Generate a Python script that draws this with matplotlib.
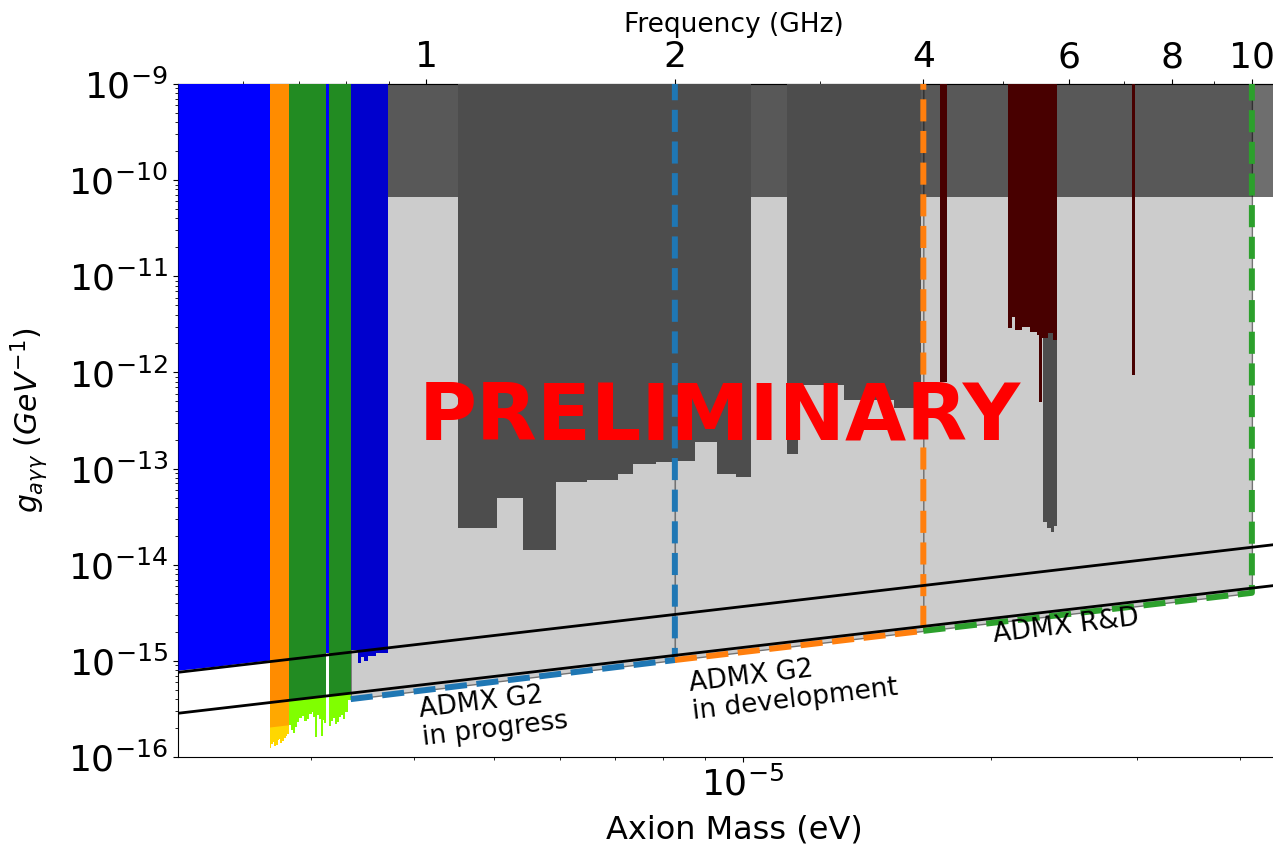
import numpy as np
import matplotlib
matplotlib.use('Agg')
import matplotlib.pyplot as plt
from matplotlib.patches import Polygon
from matplotlib.ticker import FuncFormatter, NullFormatter

EV_PER_GHZ = 4.1357e-6

# plot ranges
mass_lim = [2.068e-6, 4.6e-5]
g_lim = [1e-16, 1e-9]
TOP = 1e-8

# benchmark model lines (end points)
line_mass = [2.068e-6, 4.6e-5]
ksvz_g = [7.6e-16, 1.69e-14]
dfsz_g = [2.85e-16, 6.35e-15]

# helioscope limit
cast_g = 6.6e-11

# earlier ADMX limits (blue)
old_mass = [2.068e-6, 2.3e-6, 2.5e-6, 2.672e-6]
old_g = [8.0e-16, 8.8e-16, 9.6e-16, 1.02e-15]
old2_edges = [3.124e-6, 3.150e-6]
old2_g = [1.21e-15]

# run 1A (orange)
run1a_edges = [2.672e-6, 2.683e-6, 2.695e-6, 2.706e-6, 2.718e-6, 2.730e-6, 2.741e-6,
               2.752e-6, 2.763e-6, 2.779e-6, 2.794e-6, 2.806e-6, 2.817e-6]
run1a_g = [1.24e-16, 1.36e-16, 1.43e-16, 1.30e-16, 1.33e-16, 1.49e-16, 1.54e-16,
           1.41e-16, 1.47e-16, 1.58e-16, 1.65e-16, 1.72e-16]

# run 1B (green)
run1b_edges = [2.817e-6, 2.833e-6, 2.849e-6, 2.865e-6, 2.880e-6, 2.900e-6, 2.921e-6,
               2.941e-6, 2.961e-6, 2.982e-6, 3.003e-6, 3.016e-6, 3.028e-6, 3.045e-6,
               3.062e-6, 3.079e-6, 3.096e-6, 3.110e-6, 3.124e-6]
run1b_g = [2.15e-16, 1.92e-16, 1.77e-16, 2.05e-16, 2.31e-16, 2.52e-16, 2.67e-16,
           2.35e-16, 2.48e-16, 2.80e-16, 2.94e-16, 2.60e-16, 1.61e-16, 2.73e-16,
           2.50e-16, 1.65e-16, 2.43e-16, 2.25e-16]
run1b2_edges = [3.150e-6, 3.167e-6, 3.184e-6, 3.202e-6, 3.220e-6, 3.238e-6, 3.256e-6,
                3.274e-6, 3.292e-6, 3.320e-6, 3.348e-6]
run1b2_g = [2.10e-16, 2.35e-16, 2.54e-16, 2.22e-16, 2.31e-16, 2.60e-16, 2.73e-16,
            2.50e-16, 2.94e-16, 3.92e-16]

# run 1C (medium blue)
run1c_edges = [3.348e-6, 3.413e-6, 3.441e-6, 3.479e-6, 3.518e-6, 3.597e-6, 3.711e-6]
run1c_g = [1.30e-15, 9.49e-16, 1.10e-15, 9.96e-16, 1.12e-15, 1.21e-15]

# other haloscopes (dark grey)
exA_edges = [4.52e-6, 5.04e-6, 5.42e-6, 5.94e-6, 6.48e-6, 7.06e-6, 7.36e-6,
             7.85e-6, 8.30e-6, 8.75e-6, 9.30e-6, 9.81e-6, 1.023e-5]
exA_g = [2.41e-14, 4.94e-14, 1.42e-14, 7.24e-14, 7.60e-14, 8.78e-14,
         1.11e-13, 1.17e-13, 1.20e-13, 1.89e-13, 8.78e-14, 8.17e-14]
exB_edges = [1.130e-5, 1.166e-5, 1.325e-5, 1.523e-5, 1.641e-5]
exB_g = [1.42e-13, 7.40e-13, 5.16e-13, 4.26e-13]
exC_edges = [2.312e-5, 2.338e-5, 2.364e-5, 2.384e-5, 2.404e-5]
exC_g = [2.78e-14, 2.41e-14, 2.19e-14, 2.53e-14]

# dark red limits
redA_edges = [1.735e-5, 1.765e-5]
redA_g = [7.94e-13]
redB_edges = [2.097e-5, 2.121e-5, 2.138e-5, 2.181e-5, 2.230e-5, 2.268e-5,
              2.287e-5, 2.306e-5, 2.344e-5, 2.377e-5, 2.404e-5]
redB_g = [2.90e-12, 3.77e-12, 2.76e-12, 2.96e-12, 2.63e-12, 2.45e-12,
          4.92e-13, 2.28e-12, 2.57e-12, 2.17e-12]
redC_edges = [2.962e-5, 2.987e-5]
redC_g = [9.4e-13]

# ADMX projections
proj_edges = [3.348e-6, 8.27e-6, 1.654e-5, 4.136e-5]
proj_floor = [4.0e-16, 1.02e-15, 2.05e-15, 5.1e-15]
proj_colors = ['tab:blue', 'tab:orange', 'tab:green']

freq_ticks = [1, 2, 4, 6, 8, 10]


fig = plt.figure(figsize=(12.73, 8.46), dpi=100)
ax = fig.add_axes([178 / 1273, 89 / 846, 1112 / 1273, 673 / 846])
ax.set_xscale('log')
ax.set_yscale('log')
ax.set_xlim(mass_lim)
ax.set_ylim(g_lim)

# projected reach, light grey with dashed outline
for i, c in enumerate(proj_colors):
    xs = proj_edges[i:i + 2]
    ys = proj_floor[i:i + 2]
    ax.fill_between(xs, ys, TOP, facecolor='0.8', edgecolor='0.45', lw=1, zorder=1)
    ax.plot([xs[0], xs[1], xs[1]], [ys[0], ys[1], g_lim[1]], ls='--', lw=4.3,
            color=c, zorder=5)

# CAST
ax.axhspan(cast_g, TOP, color='k', alpha=0.57, lw=0, zorder=2)

for edges, vals in [(exA_edges, exA_g), (exB_edges, exB_g), (exC_edges, exC_g)]:
    ax.stairs(vals, edges, baseline=TOP, fill=True, color='0.3', lw=0, zorder=3)

for edges, vals in [(redA_edges, redA_g), (redB_edges, redB_g), (redC_edges, redC_g)]:
    ax.stairs(vals, edges, baseline=TOP, fill=True, color='#480000', lw=0, zorder=3.5)


def dfsz_clip(scale):
    return Polygon([(line_mass[0], dfsz_g[0] * scale), (line_mass[1], dfsz_g[1] * scale),
                    (line_mass[1], TOP), (line_mass[0], TOP)],
                   closed=True, transform=ax.transData)


# ADMX results
ax.fill_between(old_mass, old_g, TOP, color='blue', lw=0, zorder=4)
ax.stairs(old2_g, old2_edges, baseline=TOP, fill=True, color='blue', lw=0, zorder=4)

ax.stairs(run1a_g, run1a_edges, baseline=TOP, fill=True, color='gold', lw=0, zorder=4)
s = ax.stairs(run1a_g, run1a_edges, baseline=TOP, fill=True, color='#ffa800', lw=0, zorder=4)
s.set_clip_path(dfsz_clip(0.55))
s = ax.stairs(run1a_g, run1a_edges, baseline=TOP, fill=True, color='darkorange', lw=0, zorder=4)
s.set_clip_path(dfsz_clip(1.0))

for edges, vals in [(run1b_edges, run1b_g), (run1b2_edges, run1b2_g)]:
    ax.stairs(vals, edges, baseline=TOP, fill=True, color='#80ff00', lw=0, zorder=4)
    s = ax.stairs(vals, edges, baseline=TOP, fill=True, color='forestgreen', lw=0, zorder=4)
    s.set_clip_path(dfsz_clip(1.0))

ax.stairs(run1c_g, run1c_edges, baseline=TOP, fill=True, color='mediumblue', lw=0, zorder=4)

# KSVZ / DFSZ
ax.plot(line_mass, ksvz_g, color='k', lw=2, zorder=6)
ax.plot(line_mass, dfsz_g, color='k', lw=2, zorder=6)

txt = dict(fontsize=19, rotation=6.8, rotation_mode='anchor', ha='left', va='top',
           linespacing=1.1, zorder=7)
ax.text(4.04e-6, 4.2e-16, 'ADMX G2\nin progress', **txt)
ax.text(8.56e-6, 7.8e-16, 'ADMX G2\nin development', **txt)
ax.text(2.0e-5, 2.5e-15, 'ADMX R&D', **txt)

ax.text(9.38e-6, 2.0e-13, 'PRELIMINARY', color='red', fontsize=57, fontweight='bold',
        ha='center', va='baseline', zorder=8)

ax.tick_params(axis='both', which='major', labelsize=26)
ax.xaxis.set_minor_formatter(NullFormatter())
ax.set_xlabel('Axion Mass (eV)', fontsize=23, labelpad=8)
ax.set_ylabel(r'$g_{a\gamma\gamma}$ $(GeV^{-1})$', fontsize=21.5, labelpad=13)

secax = ax.secondary_xaxis('top', functions=(lambda m: m / EV_PER_GHZ,
                                             lambda f: f * EV_PER_GHZ))
secax.set_xticks(freq_ticks)
secax.xaxis.set_major_formatter(FuncFormatter(lambda v, p: '%g' % v))
secax.xaxis.set_minor_formatter(NullFormatter())
secax.tick_params(axis='x', which='major', labelsize=26)
secax.set_xlabel('Frequency (GHz)', fontsize=19, labelpad=6)

fig.savefig('out.png', dpi=100)
